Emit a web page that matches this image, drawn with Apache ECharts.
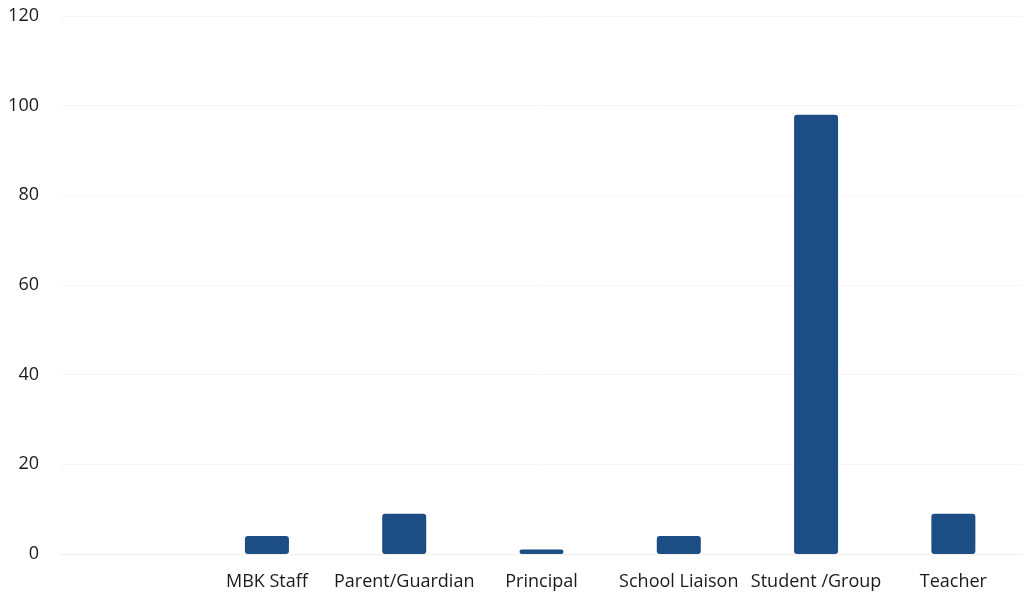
<!DOCTYPE html>
<html>
<head>
<meta charset="utf-8">
<script src="https://cdn.jsdelivr.net/npm/echarts@6/dist/echarts.min.js"></script>
<style>html,body{margin:0;padding:0;background:#fff;}#c{width:1036px;height:597px;}</style>
</head>
<body>
<div id="c"></div>
<script>
const categories = ["", "MBK Staff", "Parent/Guardian", "Principal", "School Liaison", "Student /Group", "Teacher"];
const values = [null, 4, 9, 1, 4, 98, 9];
const yTicks = [0, 20, 40, 60, 80, 100, 120];

const chart = echarts.init(document.getElementById('c'), null, {renderer: 'canvas'});
chart.setOption({
  animation: false,
  backgroundColor: '#ffffff',
  grid: {left: 61, right: 14, top: 16, bottom: 43, containLabel: false},
  xAxis: {
    type: 'category',
    data: categories,
    axisLine: {show: true, lineStyle: {color: '#f0f0f0', width: 1}},
    axisTick: {show: false},
    axisLabel: {color: '#1a1a1a', fontFamily: 'Open Sans', fontSize: 18, margin: 19, interval: 0}
  },
  yAxis: {
    type: 'value',
    min: yTicks[0],
    max: yTicks[yTicks.length - 1],
    interval: yTicks[1] - yTicks[0],
    axisLine: {show: false},
    axisTick: {show: false},
    splitLine: {show: true, lineStyle: {color: '#f6f6f6', width: 1}},
    axisLabel: {color: '#1a1a1a', fontFamily: 'Open Sans', fontSize: 18, margin: 22}
  },
  series: [{
    type: 'bar',
    data: values,
    barWidth: 44,
    itemStyle: {color: '#1d4d85', borderRadius: 3}
  }]
});
</script>
</body>
</html>
